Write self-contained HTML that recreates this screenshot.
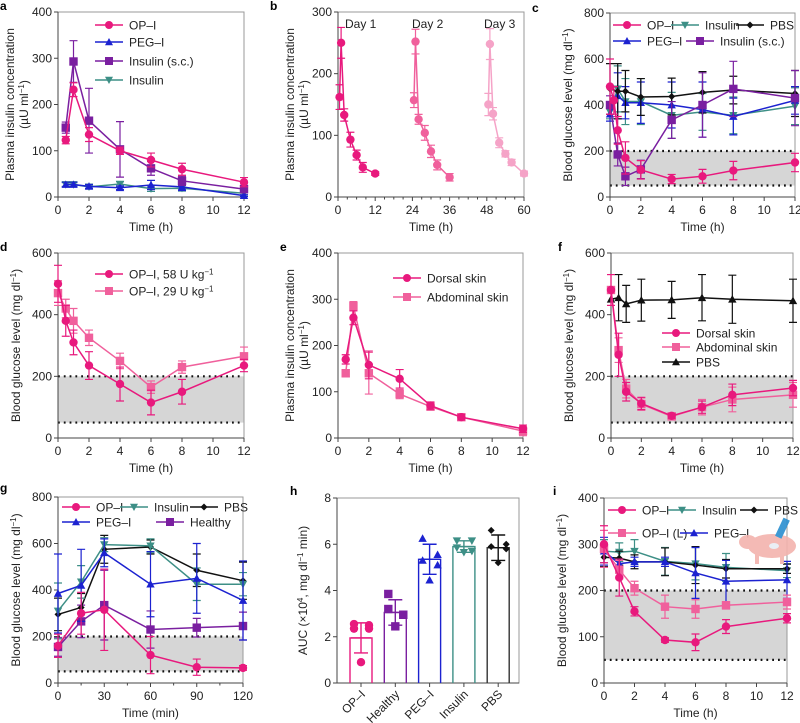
<!DOCTYPE html>
<html><head><meta charset="utf-8"><style>
html,body{margin:0;padding:0;background:#fff;}
svg{display:block;font-family:"Liberation Sans",Arial,sans-serif;}
</style></head><body>
<svg id="s" width="800" height="723" viewBox="0 0 800 723" xmlns="http://www.w3.org/2000/svg"></svg>
<script>
const PK='#e8197d',LP='#f0609c',VLP='#f5a3c7',BL='#1c22d0',PU='#7a1fa0',TE='#3d8f86',BK='#111';
let out='';
function mk(m,x,y,c,r){r=r||4.2;
 if(m==='o')return `<circle cx="${x}" cy="${y}" r="${r}" fill="${c}"/>`;
 if(m==='s')return `<rect x="${x-r}" y="${y-r}" width="${2*r}" height="${2*r}" fill="${c}"/>`;
 if(m==='^')return `<polygon points="${x},${y-r} ${x-r},${y+r*0.8} ${x+r},${y+r*0.8}" fill="${c}"/>`;
 if(m==='v')return `<polygon points="${x},${y+r} ${x-r},${y-r*0.8} ${x+r},${y-r*0.8}" fill="${c}"/>`;
 if(m==='d')return `<polygon points="${x},${y-3.5} ${x-3.5},${y} ${x},${y+3.5} ${x+3.5},${y}" fill="${c}"/>`;
 return '';}
function panel(o){
 const X=v=>o.px0+(v-o.xmin)/(o.xmax-o.xmin)*(o.px1-o.px0);
 const Y=v=>o.py0-(v-o.ymin)/(o.ymax-o.ymin)*(o.py0-o.py1);
 let s='';
 if(o.band){s+=`<rect x="${o.px0}" y="${Y(o.band[1])}" width="${o.px1-o.px0}" height="${Y(o.band[0])-Y(o.band[1])}" fill="#d6d6d6"/>`;
  for(const b of o.band)s+=`<line x1="${o.px0}" x2="${o.px1}" y1="${Y(b)}" y2="${Y(b)}" stroke="#111" stroke-width="2.2" stroke-dasharray="1.8 4"/>`;}
 s+=`<rect x="${o.px0}" y="${o.py1}" width="${o.px1-o.px0}" height="${o.py0-o.py1}" fill="none" stroke="#999" stroke-width="1"/>`;
 s+=`<line x1="${o.px0}" y1="${o.py1}" x2="${o.px0}" y2="${o.py0}" stroke="#444" stroke-width="1"/><line x1="${o.px0}" y1="${o.py0}" x2="${o.px1}" y2="${o.py0}" stroke="#444" stroke-width="1"/>`;
 for(const t of o.yt){s+=`<line x1="${o.px0-4}" x2="${o.px0}" y1="${Y(t)}" y2="${Y(t)}" stroke="#444"/><text x="${o.px0-6}" y="${Y(t)+4}" font-size="12" text-anchor="end" fill="#222">${t}</text>`;}
 if(o.xt)for(const t of o.xt){s+=`<line x1="${X(t)}" x2="${X(t)}" y1="${o.py0}" y2="${o.py0+4}" stroke="#444"/><text x="${X(t)}" y="${o.py0+17}" font-size="12" text-anchor="middle" fill="#222">${t}</text>`;}
 if(o.xminor)for(const t of o.xminor)s+=`<line x1="${X(t)}" x2="${X(t)}" y1="${o.py0}" y2="${o.py0+2.5}" stroke="#444"/>`;
 if(o.xl)s+=`<text x="${(o.px0+o.px1)/2}" y="${o.py0+34}" font-size="12" text-anchor="middle" fill="#222">${o.xl}</text>`;
 if(o.yl){const cy=(o.py0+o.py1)/2;o.yl.forEach((l,i)=>{const xx=o.px0-(o.yl.length>1?44:38)+i*14;s+=`<text transform="translate(${xx},${cy}) rotate(-90)" font-size="12" text-anchor="middle" fill="#222">${l}</text>`;});}
 s+=`<text x="${o.lx}" y="${o.ly}" font-size="12" font-weight="bold" fill="#000">${o.lab}</text>`;
 for(const se of o.series){
  let pts=se.p.map(q=>[X(q[0]),Y(q[1])]);
  s+=`<polyline points="${pts.map(p=>p.join(',')).join(' ')}" fill="none" stroke="${se.c}" stroke-width="1.5"/>`;
  se.p.forEach((q,i)=>{const e=q[2]||0;if(e){const x=pts[i][0];s+=`<path d="M${x},${Y(q[1]+e)}V${Y(Math.max(q[1]-e,o.ymin))}M${x-4},${Y(q[1]+e)}h8M${x-4},${Y(Math.max(q[1]-e,o.ymin))}h8" stroke="${se.c}" stroke-width="1.2" fill="none"/>`;}});
  pts.forEach(p=>s+=mk(se.m,p[0],p[1],se.c,se.r));
 }
 if(o.leg)for(const l of o.leg){s+=`<line x1="${l[0]}" x2="${l[0]+28}" y1="${l[1]}" y2="${l[1]}" stroke="${l[3]}" stroke-width="1.5"/>`+mk(l[4],l[0]+14,l[1],l[3],l[4]==='d'?3.5:4)+`<text x="${l[0]+34}" y="${l[1]+4.5}" font-size="12" fill="#222">${l[2]}</text>`;}
 out+=s;
}
const T12=[0,2,4,6,8,10,12];
const YLI=['Plasma insulin concentration','(µU ml<tspan dy="-4" font-size="8">−1</tspan><tspan dy="4">)</tspan>'];
const YLG=['Blood glucose level (mg dl<tspan dy="-4" font-size="8">−1</tspan><tspan dy="4">)</tspan>'];
// a
panel({px0:58,px1:244,py0:197,py1:12,xmin:0,xmax:12,ymin:0,ymax:400,yt:[0,100,200,300,400],xt:T12,xl:'Time (h)',yl:YLI,lab:'a',lx:0,ly:10,
 series:[
 {c:TE,m:'v',p:[[0.5,27,4],[1,27,4],[2,22,4],[4,28,5],[6,18,6],[8,19,6],[12,8,4]]},
 {c:BL,m:'^',p:[[0.5,27,5],[1,27,5],[2,23,4],[4,20,4],[6,26,10],[8,22,8],[12,3,2]]},
 {c:PU,m:'s',p:[[0.5,150,12],[1,293,45],[2,165,70],[4,103,60],[6,62,15],[8,35,10],[12,17,8]]},
 {c:PK,m:'o',p:[[0.5,123,8],[1,232,15],[2,135,15],[4,100,8],[6,80,15],[8,60,13],[12,32,10]]}],
 leg:[[95,25,'OP–I',PK,'o'],[95,42,'PEG–I',BL,'^'],[95,61,'Insulin (s.c.)',PU,'s'],[95,80,'Insulin',TE,'v']]});
// b
panel({px0:338,px1:524,py0:197,py1:12,xmin:0,xmax:60,ymin:0,ymax:300,yt:[0,100,200,300],xt:[0,12,24,36,48,60],xminor:[3,6,9,15,18,21,27,30,33,39,42,45,51,54,57],xl:'Time (h)',yl:YLI,lab:'b',lx:270,ly:10,
 series:[
 {c:PK,m:'o',p:[[0.5,162,20],[1,250,25],[2,133,10],[4,93,12],[6,68,8],[8,48,8],[12,38,3]]},
 {c:LP,m:'o',p:[[24.5,157,12],[25,252,20],[26,126,8],[28,104,12],[30,74,10],[32,52,8],[36,32,6]]},
 {c:VLP,m:'o',p:[[48.5,150,18],[49,248,25],[50,135,10],[52,88,8],[54,70,5],[56,56,5],[60,38,4]]}]});
out+=`<text x="345" y="28" font-size="12" fill="#222">Day 1</text><text x="412" y="28" font-size="12" fill="#222">Day 2</text><text x="484" y="28" font-size="12" fill="#222">Day 3</text>`;
// c
panel({px0:610,px1:795,py0:197,py1:13,xmin:0,xmax:12,ymin:0,ymax:800,yt:[0,200,400,600,800],xt:T12,xl:'Time (h)',yl:YLG,lab:'c',lx:532,ly:12,band:[50,200],
 series:[
 {c:TE,m:'v',p:[[0,370,30],[0.5,470,100],[1,415,100],[2,415,100],[4,355,100],[6,370,80],[8,355,80],[12,395,80]]},
 {c:BL,m:'^',p:[[0,360,30],[0.5,440,100],[1,410,70],[2,410,90],[4,400,100],[6,380,120],[8,350,80],[12,420,60]]},
 {c:BK,m:'d',p:[[0,470,110],[0.5,460,120],[1,460,90],[2,435,80],[4,437,80],[6,455,90],[8,465,60],[12,450,100]]},
 {c:PU,m:'s',p:[[0,400,40],[0.5,185,50],[1,90,40],[2,120,40],[4,335,80],[6,400,140],[8,470,120],[12,430,120]]},
 {c:PK,m:'o',p:[[0,480,120],[0.25,420,60],[0.5,290,60],[1,170,70],[2,118,40],[4,78,20],[6,90,30],[8,115,40],[12,150,40]]}],
 leg:[[613,25,'OP–I',PK,'o'],[671,25,'Insulin',TE,'v'],[736,25,'PBS',BK,'d'],[613,41,'PEG–I',BL,'^'],[686,41,'Insulin (s.c.)',PU,'s']]});
// d
panel({px0:58,px1:244,py0:438,py1:253,xmin:0,xmax:12,ymin:0,ymax:600,yt:[0,200,400,600],xt:T12,xl:'Time (h)',yl:YLG,lab:'d',lx:0,ly:251,band:[50,200],
 series:[
 {c:LP,m:'s',p:[[0,470,40],[0.5,420,30],[1,380,40],[2,325,25],[4,250,25],[6,165,20],[8,230,20],[12,265,30]]},
 {c:PK,m:'o',p:[[0,500,60],[0.5,380,50],[1,310,40],[2,235,45],[4,175,55],[6,115,40],[8,150,40],[12,235,20]]}],
 leg:[[95,274,'OP–I, 58 U kg<tspan dy="-4" font-size="8">−1</tspan>',PK,'o'],[95,291,'OP–I, 29 U kg<tspan dy="-4" font-size="8">−1</tspan>',LP,'s']]});
// e
panel({px0:338,px1:523,py0:438,py1:253,xmin:0,xmax:12,ymin:0,ymax:400,yt:[0,100,200,300,400],xt:T12,xl:'Time (h)',yl:YLI,lab:'e',lx:280,ly:251,
 series:[
 {c:LP,m:'s',p:[[0.5,140,8],[1,285,10],[2,140,45],[4,95,10],[6,68,8],[8,45,6],[12,15,10]]},
 {c:PK,m:'o',p:[[0.5,170,10],[1,260,15],[2,158,30],[4,128,20],[6,70,8],[8,45,6],[12,20,8]]}],
 leg:[[393,278,'Dorsal skin',PK,'o'],[393,297,'Abdominal skin',LP,'s']]});
// f
panel({px0:611,px1:793,py0:438,py1:253,xmin:0,xmax:12,ymin:0,ymax:600,yt:[0,200,400,600],xt:T12,xl:'Time (h)',yl:YLG,lab:'f',lx:558,ly:251,band:[50,200],
 series:[
 {c:BK,m:'^',p:[[0,450,0],[0.5,455,75],[1,435,60],[2,447,68],[4,448,60],[6,455,75],[8,450,78],[12,445,70]]},
 {c:LP,m:'s',p:[[0,480,50],[0.5,285,40],[1,160,30],[2,110,20],[4,70,10],[6,100,25],[8,125,40],[12,140,40]]},
 {c:PK,m:'o',p:[[0,480,50],[0.5,270,70],[1,150,30],[2,112,20],[4,72,8],[6,100,20],[8,140,35],[12,162,25]]}],
 leg:[[662,333,'Dorsal skin',PK,'o'],[662,347,'Abdominal skin',LP,'s'],[662,362,'PBS',BK,'^']]});
// g
panel({px0:58,px1:243,py0:683,py1:497,xmin:0,xmax:120,ymin:0,ymax:800,yt:[0,200,400,600,800],xt:[0,30,60,90,120],xminor:[15,45,75,105],xl:'Time (min)',yl:YLG,lab:'g',lx:0,ly:492,band:[50,200],
 series:[
 {c:PU,m:'s',p:[[0,155,40],[15,265,70],[30,335,150],[60,230,80],[90,238,40],[120,245,60]]},
 {c:BK,m:'d',p:[[0,295,70],[15,325,60],[30,575,60],[60,585,30],[90,485,70],[120,440,80]]},
 {c:TE,m:'v',p:[[0,310,120],[15,435,70],[30,595,30],[60,590,30],[90,425,70],[120,425,50]]},
 {c:BL,m:'^',p:[[0,385,170],[15,420,155],[30,560,60],[60,425,140],[90,450,150],[120,355,170]]},
 {c:PK,m:'o',p:[[0,160,50],[15,300,90],[30,315,175],[60,120,80],[90,68,35],[120,65,10]]}],
 leg:[[62,507,'OP–I',PK,'o'],[120,507,'Insulin',TE,'v'],[190,507,'PBS',BK,'d'],[62,522,'PEG–I',BL,'^'],[156,522,'Healthy',PU,'s']]});
// h
(function(){const px0=337,px1=519,py0=683,py1=498;const Y=v=>py0-v/8*(py0-py1);let s='';
 s+=`<rect x="${px0}" y="${py1}" width="${px1-px0}" height="${py0-py1}" fill="none" stroke="#999"/>`;
 s+=`<line x1="${px0}" y1="${py1}" x2="${px0}" y2="${py0}" stroke="#444"/><line x1="${px0}" y1="${py0}" x2="${px1}" y2="${py0}" stroke="#444"/>`;
 for(const t of [0,2,4,6,8])s+=`<line x1="${px0-4}" x2="${px0}" y1="${Y(t)}" y2="${Y(t)}" stroke="#444"/><text x="${px0-6}" y="${Y(t)+4}" font-size="12" text-anchor="end" fill="#222">${t}</text>`;
 s+=`<text transform="translate(${px0-30},${(py0+py1)/2}) rotate(-90)" font-size="12" text-anchor="middle" fill="#222">AUC (×10<tspan dy="-4" font-size="8">4</tspan><tspan dy="4">, mg dl</tspan><tspan dy="-4" font-size="8">−1</tspan><tspan dy="4"> min)</tspan></text>`;
 s+=`<text x="290" y="495" font-size="12" font-weight="bold">h</text>`;
 const B=[['OP–I',1.95,0.65,PK,'o',[2.55,2.5,2.35,2.35,0.9]],['Healthy',3.05,0.55,PU,'s',[3.85,2.95,3.2,2.95,2.45]],['PEG–I',5.35,0.65,BL,'^',[6.25,5.55,5.3,5.1,4.45]],['Insulin',5.9,0.25,TE,'v',[6.15,6.15,5.85,5.7,5.65]],['PBS',5.85,0.55,'#333','d',[6.6,6.0,5.9,5.8,5.2]]];
 B.forEach((b,i)=>{const cx=361+i*34.3;const w=22;
  s+=`<path d="M${cx-w/2},${py0}V${Y(b[1])}H${cx+w/2}V${py0}" fill="none" stroke="${b[3]}" stroke-width="1.4"/>`;
  s+=`<path d="M${cx},${Y(b[1]+b[2])}V${Y(b[1]-b[2])}M${cx-7},${Y(b[1]+b[2])}h14M${cx-7},${Y(b[1]-b[2])}h14M${cx-10},${Y(b[1])}h20" stroke="${b[4]==='d'?'#111':b[3]}" stroke-width="1.4"/>`;
  b[5].forEach((v,j)=>{s+=mk(b[4],cx+[-7,8,-7,8,0][j],Y(v),b[4]==='d'?'#111':b[3],b[4]==='d'?4:4.2);});
  s+=`<line x1="${cx}" x2="${cx}" y1="${py0}" y2="${py0+4}" stroke="#444"/>`;
  s+=`<text transform="translate(${cx+5},${py0+12}) rotate(-45)" font-size="12" text-anchor="end" fill="#222">${b[0]}</text>`;});
 out+=s;})();
// i
panel({px0:604,px1:787,py0:683,py1:498,xmin:0,xmax:12,ymin:0,ymax:400,yt:[0,100,200,300,400],xt:T12,xl:'Time (h)',yl:YLG,lab:'i',lx:553,ly:495,band:[50,200],
 series:[
 {c:TE,m:'v',p:[[0,285,25],[1,283,20],[2,285,25],[4,263,30],[6,258,35],[8,250,30],[12,243,15]]},
 {c:BK,m:'d',p:[[0,272,20],[1,270,15],[2,262,15],[4,262,30],[6,255,40],[8,247,20],[12,247,10]]},
 {c:BL,m:'^',p:[[0,285,30],[1,258,10],[2,262,10],[4,262,10],[6,238,55],[8,220,45],[12,223,40]]},
 {c:LP,m:'s',p:[[0,290,40],[1,245,20],[2,205,15],[4,165,25],[6,160,20],[8,168,8],[12,175,15]]},
 {c:PK,m:'o',p:[[0,300,40],[1,228,40],[2,155,10],[4,93,5],[6,88,18],[8,122,15],[12,140,10]]}],
 leg:[[608,510,'OP–I',PK,'o'],[668,510,'Insulin',TE,'v'],[740,510,'PBS',BK,'d'],[608,533,'OP–I (L)',LP,'s'],[680,533,'PEG–I',BL,'^']]});
// pig
out+=`<g opacity="0.9"><ellipse cx="772" cy="546" rx="24" ry="12" fill="#f3b3ad"/><ellipse cx="748" cy="542" rx="9" ry="7" fill="#f3b3ad"/><rect x="755" y="552" width="4" height="12" fill="#f3b3ad"/><rect x="780" y="552" width="4" height="12" fill="#f3b3ad"/><ellipse cx="774" cy="546" rx="5" ry="3" fill="#e8eef5"/><rect x="779" y="518" width="7" height="20" fill="#2a8fd0" transform="rotate(25 782 528)"/></g>`;
document.getElementById('s').innerHTML=out;
</script>
</body></html>
